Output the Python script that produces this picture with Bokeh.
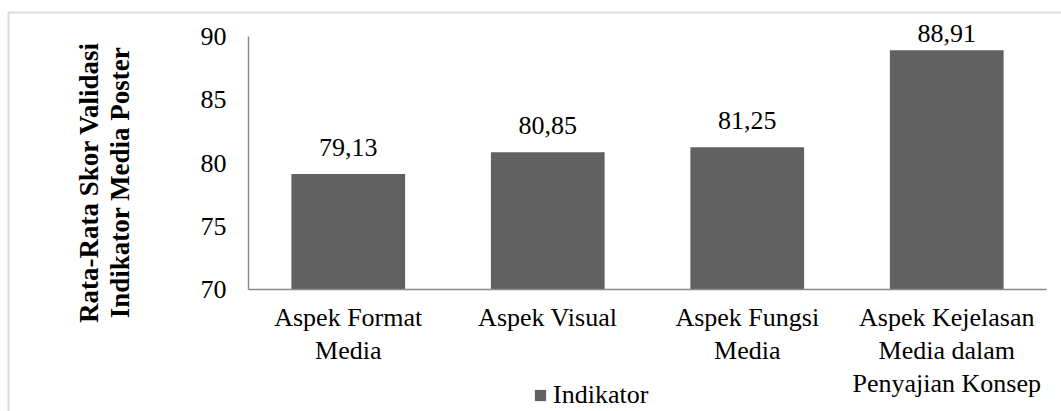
import math
import numpy as np
from bokeh.plotting import figure
from bokeh.models import (ColumnDataSource, FixedTicker, LabelSet, Label,
                          BoxAnnotation, Legend, LegendItem, LinearAxis, Range1d)
from bokeh.embed import file_html
from bokeh.resources import INLINE

categories = ["Aspek Format\nMedia", "Aspek Visual", "Aspek Fungsi\nMedia",
              "Aspek Kejelasan\nMedia dalam\nPenyajian Konsep"]
values = [79.13, 80.85, 81.25, 88.91]
value_labels = ["79,13", "80,85", "81,25", "88,91"]
y_ticks = [70, 75, 80, 85, 90]
series_name = "Indikator"
y_title_lines = ["Rata-Rata Skor Validasi", "Indikator Media Poster"]

FONT = "Liberation Serif"
FS = "26px"
BAR = "#616161"
AXIS = "#8a8a8a"

W, H = 1061, 411
# plot-area placement (pixels) inside the canvas
PL, PR, PT, PB = 248, 1046, 36, 289
Y0, Y1 = 70, 90
n = len(categories)
ppu_y = (PB - PT) / (Y1 - Y0)
ppu_x = (PR - PL) / n

label_offsets = [18, 18, 18, 8]
xpos = list(np.arange(n) + 0.5)

src = ColumnDataSource(dict(x=xpos, val=values, lab=value_labels,
                            off=label_offsets))

p = figure(width=W, height=H, output_backend="svg", toolbar_location=None,
           x_range=Range1d(-PL / ppu_x, n + (W - PR) / ppu_x),
           y_range=Range1d(Y0 - (H - PB) / ppu_y, Y1 + PT / ppu_y),
           x_axis_location=None, y_axis_location=None,
           min_border=0, min_border_left=0, min_border_right=0,
           min_border_top=0, min_border_bottom=0)
p.outline_line_color = None
for g in p.grid:
    g.visible = False
p.background_fill_color = "white"
p.border_fill_color = "white"

r = p.vbar(x="x", top="val", bottom=Y0, width=0.57, source=src,
           fill_color=BAR, line_color=None)

yax = LinearAxis(fixed_location=0, bounds=(Y0, Y1),
                 ticker=FixedTicker(ticks=y_ticks),
                 major_tick_out=0, major_tick_in=0,
                 minor_tick_out=0, minor_tick_in=0,
                 axis_line_color=AXIS, axis_line_width=1.5,
                 major_label_standoff=22,
                 major_label_text_font=FONT, major_label_text_font_size=FS,
                 major_label_text_color="black")
p.add_layout(yax, "left")

xax = LinearAxis(fixed_location=Y0, bounds=(0, n),
                 ticker=FixedTicker(ticks=xpos),
                 major_label_overrides={float(x): c for x, c in zip(xpos, categories)},
                 major_tick_out=0, major_tick_in=0,
                 minor_tick_out=0, minor_tick_in=0,
                 axis_line_color=AXIS, axis_line_width=1.5,
                 major_label_standoff=13,
                 major_label_text_font=FONT, major_label_text_font_size=FS,
                 major_label_text_color="black",
                 major_label_text_line_height=1.15)
p.add_layout(xax, "below")

labels = LabelSet(x="x", y="val", text="lab", y_offset="off", source=src,
                  text_align="center", text_baseline="alphabetic",
                  text_font=FONT, text_font_size=FS, text_color="black")
p.add_layout(labels)

# y-axis title (two lines, bold, rotated)
for i, line in enumerate(y_title_lines):
    p.add_layout(Label(x=88 + 31 * i, y=H - 182, x_units="screen",
                       y_units="screen", text=line, angle=math.pi / 2,
                       text_align="center", text_baseline="middle",
                       text_font=FONT, text_font_size="27px",
                       text_font_style="bold", text_color="black"))

# outer chart border
p.add_layout(BoxAnnotation(left=8, right=W + 50, top=H - 12, bottom=-50,
                           left_units="screen", right_units="screen",
                           top_units="screen", bottom_units="screen",
                           fill_alpha=0, line_color="#8a8a8a", line_width=2,
                           level="underlay"))

legend = Legend(items=[LegendItem(label=series_name, renderers=[r])],
                location=(533, 1), orientation="horizontal",
                glyph_width=14, glyph_height=14, label_standoff=6,
                padding=0, margin=0, spacing=0,
                label_text_font=FONT, label_text_font_size=FS,
                label_text_color="black", border_line_color=None,
                background_fill_alpha=0)
p.add_layout(legend)

open("out.html", "w").write(file_html(p, INLINE))
